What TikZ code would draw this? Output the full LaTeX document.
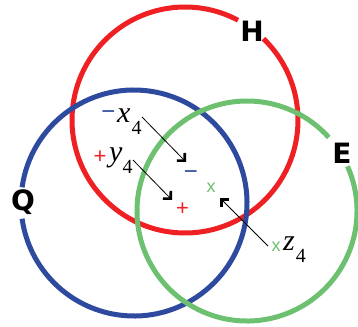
\documentclass[tikz,border=0pt]{standalone}
\usepackage{fontspec}
\setmainfont{Liberation Sans}
\newfontfamily\setfont{DejaVu Sans}
\newfontfamily\varfont{Liberation Serif}
\usetikzlibrary{arrows.meta}
\definecolor{cred}{HTML}{EE2024}
\definecolor{cblue}{HTML}{2E4A9E}
\definecolor{cgreen}{HTML}{6CC070}
\newcommand{\subfour}{\raisebox{-12.5pt}{\fontsize{20}{22}\selectfont\upshape 4}}
\begin{document}
\begin{tikzpicture}[x=1pt,y=-1pt,
  ring/.style={line width=5pt},
  setlabel/.style={font=\setfont\fontsize{28}{30}\selectfont\bfseries, inner sep=0pt},
  varlabel/.style={font=\varfont\fontsize{30}{34}\selectfont\itshape, inner sep=0pt, anchor=base west},
  minus/.style={font=\fontsize{24}{26}\selectfont, inner sep=0pt, anchor=base, text=cblue},
  plus/.style={font=\fontsize{22}{24}\selectfont, inner sep=0pt, anchor=base, text=cred},
  gx/.style={font=\fontsize{18}{20}\selectfont, inner sep=0pt, text=cgreen, anchor=base},
  move/.style={line width=0.8pt, -{Straight Barb[length=5.5pt,width=11pt,line width=2.6pt]}}
]
\useasboundingbox (0,0) rectangle (358,326);
% circles with gaps
\coordinate (cH) at (185,120);
\coordinate (cQ) at (134,203);
\coordinate (cE) at (247,211);
\draw[ring,cred] (cH) ++(-46:113) arc[start angle=-46, end angle=298, radius=113];
\draw[ring,cblue] (cQ) ++(188:113) arc[start angle=188, end angle=532, radius=113];
\draw[ring,cgreen] (cE) ++(-24:110) arc[start angle=-24, end angle=318, radius=110];
% set labels
\node[setlabel] (H) at (252,31) {H};
\node[setlabel] (Q) at (23,202) {Q};
\node[setlabel] (E) at (342,153) {E};
% variable labels
\node[varlabel] (x4) at (117,122) {x\kern1pt\subfour};
\node[minus] (mx) at (108.5,119.6) {−};
\node[varlabel] (y4) at (109,161) {y\subfour};
\node[plus] (py) at (100,163.5) {+};
\node[varlabel] (z4) at (283,250) {z\kern1pt\subfour};
\node[gx] (gz) at (276,251.7) {x};
% targets
\node[minus] (mt) at (191,179.6) {−};
\node[plus] (pt) at (182.5,215.5) {+};
\node[gx] (gt) at (211,192.7) {x};
\coordinate (tx) at (186,162);
\coordinate (ty) at (172,200);
\coordinate (tz) at (220,198);
\coordinate (sx) at (142,117);
\coordinate (sy) at (133,160);
\coordinate (sz) at (268,246);
\draw[move] (sx) -- (tx);
\draw[move] (sy) -- (ty);
\draw[move] (sz) -- (tz);
\end{tikzpicture}
\end{document}
